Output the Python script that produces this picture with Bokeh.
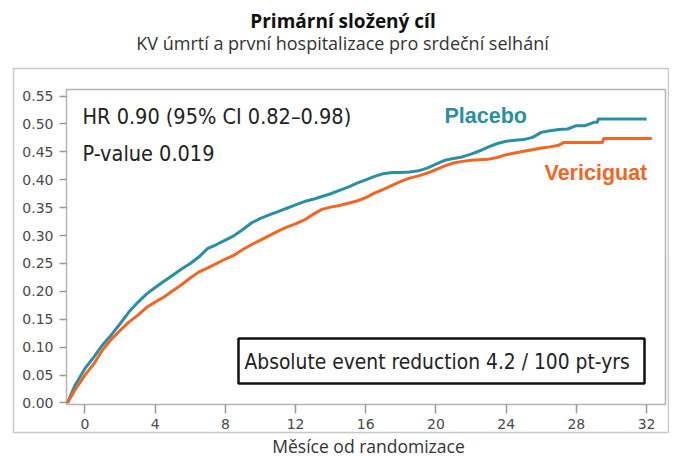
from bokeh.plotting import figure
from bokeh.models import Label, BoxAnnotation, FixedTicker, PrintfTickFormatter, Range1d
from bokeh.embed import file_html
from bokeh.resources import INLINE

# ---- data ----
placebo_m = [-1.0, -0.6, 0.0, 0.5, 1.0, 1.5, 2.0, 2.5, 3.0, 3.5, 4.0, 4.5, 5.0, 5.5, 6.0,
             6.5, 7.0, 7.5, 8.0, 8.5, 9.0, 9.5, 10.0, 10.5, 11.0, 11.5, 12.0, 12.5, 13.0,
             13.5, 14.0, 14.5, 15.0, 15.5, 16.0, 16.5, 17.0, 17.5, 18.0, 18.5, 19.0, 19.5,
             20.0, 20.5, 21.0, 21.5, 22.0, 22.5, 23.0, 23.5, 24.0, 24.5, 25.0, 25.5, 26.0,
             26.5, 27.0, 27.5, 28.0, 28.5, 29.0, 29.2, 29.25, 32.0]
placebo_v = [0.0, 0.03, 0.062, 0.082, 0.104, 0.122, 0.142, 0.163, 0.180, 0.195, 0.207,
             0.218, 0.229, 0.240, 0.250, 0.262, 0.277, 0.284, 0.292, 0.300, 0.311, 0.323,
             0.331, 0.337, 0.343, 0.349, 0.355, 0.361, 0.365, 0.370, 0.375, 0.381, 0.387,
             0.394, 0.400, 0.406, 0.411, 0.413, 0.413, 0.414, 0.416, 0.421, 0.428, 0.435,
             0.438, 0.441, 0.446, 0.452, 0.459, 0.465, 0.469, 0.471, 0.472, 0.476, 0.485,
             0.488, 0.490, 0.491, 0.497, 0.497, 0.503, 0.503, 0.509, 0.509]

veric_m = [-1.0, -0.6, 0.0, 0.5, 1.0, 1.5, 2.0, 2.5, 3.0, 3.5, 4.0, 4.5, 5.0, 5.5, 6.0,
           6.5, 7.0, 7.5, 8.0, 8.5, 9.0, 9.5, 10.0, 10.5, 11.0, 11.5, 12.0, 12.5, 13.0,
           13.5, 14.0, 14.5, 15.0, 15.5, 16.0, 16.5, 17.0, 17.5, 18.0, 18.5, 19.0, 19.5,
           20.0, 20.5, 21.0, 21.5, 22.0, 22.5, 23.0, 23.5, 24.0, 24.5, 25.0, 25.5, 26.0,
           26.5, 27.0, 27.3, 29.5, 29.55, 32.3]
veric_v = [0.0, 0.022, 0.050, 0.070, 0.095, 0.114, 0.130, 0.145, 0.157, 0.171, 0.181,
           0.190, 0.201, 0.212, 0.224, 0.235, 0.242, 0.250, 0.258, 0.265, 0.275, 0.284,
           0.292, 0.300, 0.308, 0.315, 0.321, 0.328, 0.338, 0.347, 0.351, 0.354, 0.358,
           0.362, 0.368, 0.376, 0.383, 0.390, 0.397, 0.403, 0.407, 0.412, 0.418, 0.425,
           0.430, 0.433, 0.435, 0.436, 0.437, 0.440, 0.445, 0.448, 0.451, 0.454, 0.457,
           0.459, 0.462, 0.467, 0.467, 0.474, 0.474]

x_ticks = [0, 4, 8, 12, 16, 20, 24, 28, 32]
y_ticks = [0.00, 0.05, 0.10, 0.15, 0.20, 0.25, 0.30, 0.35, 0.40, 0.45, 0.50, 0.55]

title_text = "Primární složený cíl"
subtitle_text = "KV úmrtí a první hospitalizace pro srdeční selhání"
xlabel_text = "Měsíce od randomizace"
hr_text = "HR 0.90 (95% CI 0.82\u20130.98)"
p_text = "P-value 0.019"
box_text = "Absolute event reduction 4.2 / 100 pt-yrs"
series_names = ["Placebo", "Vericiguat"]
colors = ["#2a8fa5", "#f26522"]

# ---- layout (canvas pixels) ----
W, H = 669, 458
FL, FR, FT, FB = 66, 665, 89, 404          # inner plot box in canvas px
XS, XE = -1.054, 33.08
YS, YE = -0.0027, 0.5618
KX = (XE - XS) / (FR - FL)
KY = (YE - YS) / (FB - FT)

def dx(px):
    return XS + (px - FL) * KX

def dy(py):
    return YS + (FB - py) * KY

p = figure(width=W, height=H, output_backend="svg", toolbar_location=None,
           x_range=Range1d(dx(0), dx(W)), y_range=Range1d(dy(H), dy(0)),
           min_border=0)
p.min_border_left = 0
p.min_border_right = 0
p.min_border_top = 0
p.min_border_bottom = 0
p.background_fill_color = "white"
p.border_fill_color = "white"
p.outline_line_color = None
p.xgrid.visible = False
p.ygrid.visible = False

for ax in (p.xaxis[0], p.yaxis[0]):
    ax.axis_line_color = None
    ax.major_tick_line_color = "#9a9a9a"
    ax.major_tick_line_width = 1.5
    ax.minor_tick_line_color = None
    ax.major_tick_in = 0
    ax.major_label_text_font = "DejaVu Sans"
    ax.major_label_text_font_size = "14px"
    ax.major_label_text_color = "#4a4a4a"

p.xaxis.fixed_location = YS
p.yaxis.fixed_location = XS
p.xaxis.ticker = FixedTicker(ticks=x_ticks)
p.yaxis.ticker = FixedTicker(ticks=y_ticks)
p.yaxis.formatter = PrintfTickFormatter(format="%.2f")
p.xaxis.major_tick_out = 9
p.xaxis.major_label_standoff = 5
p.yaxis.major_tick_out = 7
p.yaxis.major_label_standoff = 6

# outer grey box
p.add_layout(BoxAnnotation(left=dx(13), right=dx(668), top=dy(68), bottom=dy(432),
                           fill_color=None, line_color="#c8c8c8", line_alpha=1.0,
                           line_width=1.5, level="underlay"))
# inner plot box
p.add_layout(BoxAnnotation(left=XS, right=XE, top=YE, bottom=YS,
                           fill_color=None, line_color="#b4b4b4", line_alpha=1.0,
                           line_width=1.5, level="underlay"))

p.line(placebo_m, placebo_v, line_color=colors[0], line_width=3)
p.line(veric_m, veric_v, line_color=colors[1], line_width=3)

# event reduction box
p.add_layout(BoxAnnotation(left=dx(238), right=dx(644), top=dy(338), bottom=dy(383),
                           fill_color="white", fill_alpha=1.0, line_color="#111111",
                           line_alpha=1.0, line_width=2.5))

def lab(x, y, t, font, size, color="#222222", style="normal", align="left"):
    # y is the vertical centre of the capital letters
    p.add_layout(Label(x=dx(x), y=dy(y), text=t, text_font=font, text_font_size=size,
                       text_color=color, text_font_style=style, text_align=align,
                       text_baseline="alphabetic"))

lab(342.5, 20.5, title_text, "Open Sans", "19px", "#111111", "bold", "center")
lab(342, 42, subtitle_text, "Open Sans", "18px", "#333333", "normal", "center")
lab(368, 445.5, xlabel_text, "Open Sans", "17.5px", "#333333", "normal", "center")

lab(82, 116, hr_text, "DejaVu Sans Condensed", "21.5px")
lab(82, 152.5, p_text, "DejaVu Sans Condensed", "21.5px")
lab(444, 115, series_names[0], "Liberation Sans", "21.5px", colors[0], "bold")
lab(544, 172, series_names[1], "Liberation Sans", "21.5px", colors[1], "bold")
lab(244, 361, box_text, "DejaVu Sans Condensed", "20.8px")

open("out.html", "w").write(file_html(p, INLINE))
